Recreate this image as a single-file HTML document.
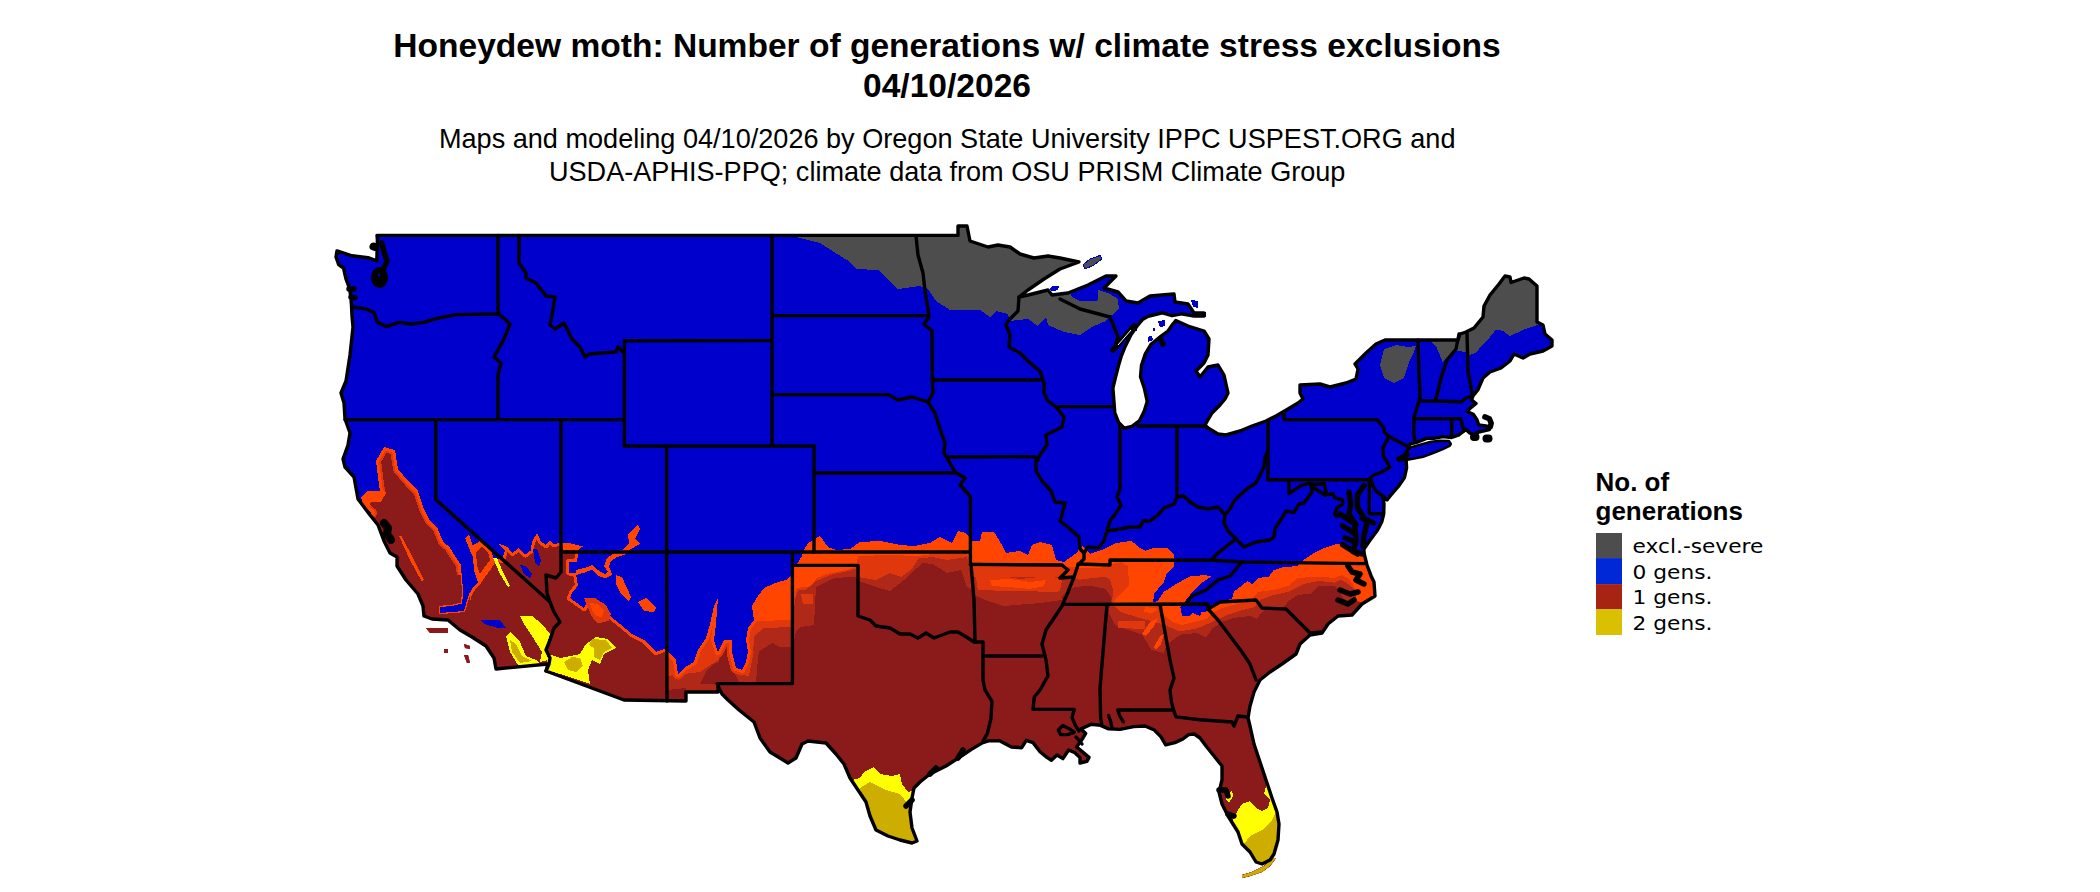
<!DOCTYPE html>
<html><head><meta charset="utf-8"><title>Honeydew moth</title>
<style>
html,body{margin:0;padding:0;background:#fff;}
body{width:2100px;height:892px;position:relative;overflow:hidden;font-family:"Liberation Sans",sans-serif;color:#000;}
.t{position:absolute;white-space:nowrap;}
#title{left:0;width:1894px;text-align:center;top:26px;font-size:32px;font-weight:bold;line-height:40px;}
#sub{left:0;width:1894px;text-align:center;top:122px;font-size:26.6px;line-height:33px;}
#lt{left:1596px;top:468px;font-size:24px;font-weight:bold;line-height:28.8px;}
.ll{left:1633px;font-family:"DejaVu Sans",sans-serif;font-size:19px;line-height:25.6px;}
</style></head><body>
<svg width="2100" height="892" viewBox="0 0 2100 892" style="position:absolute;left:0;top:0">
<defs><clipPath id="land">
<polygon points="377.0,235.4 958.0,235.4 958.0,226.0 967.0,226.0 970.0,241.0 988.0,247.0 998.0,245.0 1010.0,247.0 1020.0,254.0 1034.0,258.0 1048.0,256.0 1060.0,258.0 1079.0,262.0 1060.0,269.0 1044.0,279.0 1028.0,290.0 1019.0,297.0 1028.0,295.0 1048.0,290.0 1052.0,295.0 1068.0,293.0 1088.0,285.0 1106.0,276.0 1116.0,276.0 1104.0,288.0 1118.0,292.0 1126.0,301.0 1138.0,303.0 1150.0,296.0 1174.0,294.0 1175.0,302.0 1188.0,304.0 1194.0,313.0 1204.0,313.0 1204.0,316.0 1194.0,316.0 1181.5,313.8 1172.0,315.7 1162.4,312.9 1147.2,316.7 1142.4,319.6 1137.6,325.3 1131.0,334.8 1125.3,346.2 1121.4,355.8 1118.6,365.3 1115.7,376.7 1112.9,388.2 1113.8,399.6 1114.8,412.9 1118.6,422.5 1124.3,428.2 1131.9,426.3 1139.6,420.6 1144.3,411.0 1147.2,401.5 1144.3,388.2 1140.5,376.7 1141.5,365.3 1145.3,353.9 1151.0,344.3 1160.5,336.7 1168.0,331.0 1172.0,325.3 1175.8,320.5 1188.0,326.0 1204.0,331.0 1209.0,339.0 1208.0,355.0 1204.0,363.0 1196.0,371.0 1200.0,377.0 1208.0,367.0 1218.0,365.0 1224.0,375.0 1228.0,393.0 1225.0,399.0 1220.0,405.0 1212.0,413.0 1205.0,425.0 1208.0,428.0 1218.0,434.0 1226.0,435.0 1240.0,431.0 1252.0,426.0 1266.0,421.0 1276.0,416.0 1288.0,409.0 1298.0,403.0 1303.0,399.0 1300.0,393.0 1300.0,385.0 1320.0,384.0 1330.0,387.0 1346.0,383.0 1356.0,379.0 1358.0,369.0 1355.0,364.0 1366.0,353.0 1376.0,344.0 1385.0,340.0 1458.0,340.0 1460.0,334.0 1466.0,332.0 1474.0,328.0 1483.0,317.0 1484.0,306.0 1490.0,295.0 1499.0,284.0 1505.0,276.0 1510.0,277.0 1511.0,282.5 1524.0,278.0 1529.0,279.0 1537.0,286.0 1537.0,322.0 1543.0,325.0 1545.0,334.0 1552.0,340.0 1552.0,346.0 1543.0,351.0 1530.0,354.0 1523.0,358.0 1514.0,354.0 1510.0,361.0 1501.0,368.0 1490.0,372.0 1483.0,378.0 1477.8,390.0 1473.3,395.4 1471.5,399.9 1476.0,403.5 1470.6,407.9 1467.0,411.5 1473.3,414.2 1476.9,419.6 1478.7,425.0 1485.8,425.9 1490.3,426.8 1489.4,429.5 1478.7,432.0 1474.2,434.8 1469.7,433.0 1466.0,429.5 1462.5,432.0 1458.9,434.8 1451.7,437.5 1442.8,436.6 1433.8,438.4 1426.6,438.4 1417.7,442.0 1410.5,443.8 1408.0,447.0 1406.0,457.0 1406.6,468.0 1404.5,477.5 1399.0,485.6 1391.0,495.0 1387.0,500.0 1383.0,497.0 1384.0,504.0 1383.7,514.0 1381.7,522.0 1377.6,530.0 1369.6,540.7 1364.0,549.0 1364.0,553.0 1367.0,565.0 1371.0,575.7 1374.0,582.0 1375.0,596.0 1362.0,604.0 1352.0,615.0 1338.0,616.0 1328.0,624.0 1322.0,633.0 1310.0,635.0 1300.0,644.0 1296.0,654.0 1282.0,664.0 1270.0,672.0 1260.0,680.0 1254.0,692.0 1250.0,706.0 1248.0,718.0 1250.0,726.0 1254.0,744.0 1260.0,762.0 1266.0,780.0 1272.0,798.0 1277.0,812.0 1279.0,824.0 1278.0,840.0 1274.0,854.0 1270.0,860.0 1262.0,864.0 1256.0,862.0 1250.0,852.0 1242.0,844.0 1238.0,832.0 1228.0,816.0 1222.0,804.0 1219.0,792.0 1222.0,780.0 1222.0,766.0 1214.0,756.0 1206.0,746.0 1200.0,738.0 1194.3,734.0 1188.6,734.6 1182.9,739.0 1174.9,742.6 1165.7,744.9 1161.0,736.9 1154.3,730.0 1145.0,726.0 1133.7,726.6 1120.0,729.4 1108.6,728.9 1100.6,725.4 1091.4,724.3 1081.0,728.9 1085.7,733.4 1082.3,739.0 1076.6,747.0 1081.0,750.6 1089.0,757.4 1086.9,761.4 1080.0,763.0 1080.0,757.4 1074.3,752.3 1068.6,750.0 1062.9,758.6 1057.0,755.0 1051.4,760.3 1046.9,757.4 1040.0,751.7 1033.0,742.6 1026.3,740.3 1021.7,747.7 1011.4,747.0 1000.0,740.9 988.6,740.9 982.9,742.6 971.4,749.4 960.0,757.0 946.0,766.0 930.0,774.0 920.0,782.0 914.0,788.0 912.0,798.0 910.0,812.0 912.0,828.0 917.0,841.0 912.0,843.0 900.0,840.0 888.0,836.0 876.0,830.0 870.0,816.0 866.0,802.0 858.0,790.0 850.0,778.0 844.0,764.0 836.0,754.0 826.0,743.0 808.0,741.0 802.0,744.0 796.0,758.0 788.0,763.0 770.0,752.0 760.0,738.0 754.0,722.0 739.0,710.0 728.0,700.0 722.0,694.0 718.0,686.0 718.0,692.0 686.0,692.0 686.0,701.0 624.0,700.0 546.0,671.0 548.0,664.0 496.0,669.0 496.0,669.0 494.0,658.0 486.0,646.0 472.0,637.0 460.0,630.0 448.0,620.0 432.0,619.0 424.0,616.0 423.0,606.0 418.0,594.0 406.0,580.0 397.0,566.0 397.0,557.0 390.0,553.0 384.0,541.0 378.0,525.0 370.0,515.0 358.0,499.0 354.0,477.0 345.0,467.0 343.0,459.0 348.0,445.0 350.0,433.0 345.0,419.0 344.0,403.0 341.0,393.0 346.0,381.0 350.0,355.0 353.0,327.0 352.0,316.0 351.5,306.0 351.0,299.0 349.7,289.0 346.0,279.0 343.5,268.0 338.6,264.5 336.0,257.0 337.0,250.9 352.0,255.8 368.0,257.7 376.8,260.8 377.4,239.8"/>
<polygon points="1399.7,460.0 1406.0,452.0 1410.5,447.4 1420.4,444.7 1430.2,442.0 1439.2,440.7 1449.0,441.0 1450.9,443.8 1450.0,445.6 1442.8,449.2 1433.8,452.8 1423.0,456.8 1414.0,458.6 1406.0,460.0"/>
<polygon points="426.0,628.0 448.0,628.0 448.0,633.0 430.0,633.0"/>
<polygon points="464.0,644.0 470.0,646.0 470.0,649.0 465.0,648.0"/>
<polygon points="464.0,655.0 468.0,655.0 470.0,663.0 467.0,663.0"/>
<polygon points="444.0,649.0 448.0,649.0 448.0,653.0 444.0,653.0"/>
<polygon points="1276.0,858.0 1270.0,866.0 1262.0,872.0 1250.0,876.0 1242.0,878.0 1242.0,875.0 1252.0,872.0 1264.0,866.0 1272.0,858.0"/>
<polygon points="1083.0,265.0 1090.0,259.0 1100.0,255.5 1102.0,259.0 1094.0,265.0 1085.0,269.0"/>
</clipPath></defs>
<g clip-path="url(#land)" shape-rendering="crispEdges">
<rect x="300" y="200" width="1300" height="692" fill="#0000CD"/>
<polygon points="796.0,230.0 796.0,237.0 820.0,243.0 834.0,252.0 850.0,262.0 856.0,269.0 878.0,270.0 884.0,276.0 898.0,289.0 920.0,286.0 928.0,289.0 936.0,301.0 950.0,310.0 980.0,310.0 990.0,317.0 996.0,311.0 1008.0,314.0 1010.0,321.0 1028.0,319.0 1038.0,326.0 1046.0,317.0 1048.0,325.0 1064.0,332.0 1080.0,335.0 1092.0,327.0 1106.0,321.0 1110.0,315.0 1118.0,309.0 1118.0,299.0 1110.0,294.0 1096.0,301.0 1080.0,301.0 1072.0,297.0 1068.0,286.0 1090.0,250.0 1060.0,220.0 900.0,220.0" fill="#4D4D4D"/>
<polygon points="1098.0,290.0 1110.0,294.0 1118.0,301.0 1119.0,309.0 1112.0,315.0 1100.0,314.0 1098.0,300.0" fill="#4D4D4D"/>
<polygon points="1469.0,355.0 1476.0,353.0 1483.0,344.0 1490.0,337.0 1496.0,329.5 1503.0,331.0 1510.0,336.0 1521.0,331.0 1528.0,328.0 1537.0,325.0 1545.0,320.0 1545.0,270.0 1500.0,270.0 1460.0,330.0 1462.0,345.0" fill="#4D4D4D"/>
<polygon points="1459.0,334.0 1467.0,333.0 1468.0,352.0 1455.0,351.0 1448.0,357.6 1455.0,345.0" fill="#4D4D4D"/>
<polygon points="1430.0,341.0 1458.0,341.0 1455.0,349.0 1442.6,362.0 1436.0,346.0" fill="#4D4D4D"/>
<polygon points="1384.0,349.0 1396.0,345.0 1408.0,347.0 1416.0,346.0 1414.0,352.0 1409.0,362.0 1404.0,378.0 1394.0,383.0 1384.0,378.0 1380.0,365.0" fill="#4D4D4D"/>
<polygon points="1083.0,265.0 1090.0,259.0 1100.0,255.5 1102.0,259.0 1094.0,265.0 1085.0,269.0" fill="#4D4D4D"/>
<path d="M372.0 513.0 L363.0 505.0 L361.0 497.0 L368.0 491.0 L380.0 491.0 L378.0 477.0 L376.0 461.0 L384.0 447.0 L395.0 450.0 L398.0 469.0 L408.0 481.0 L418.0 491.0 L424.0 509.0 L430.0 521.0 L437.7 528.7 L443.0 541.6 L449.0 546.7 L455.8 557.0 L461.0 564.8 L462.0 580.0 L463.5 590.6 L462.0 603.5 L452.0 606.0 L440.0 607.0 L440.0 613.0 L452.0 612.0 L464.0 611.0 L468.7 595.0 L472.5 588.0 L477.7 582.8 L482.0 576.0 L488.0 568.0 L494.0 558.0 L502.0 560.0 L505.0 550.0 L497.0 543.0 L507.0 546.7 L512.5 553.0 L519.0 548.0 L525.4 554.5 L530.6 550.6 L532.0 541.6 L537.0 533.0 L541.0 541.6 L546.0 545.0 L550.0 540.0 L553.8 544.0 L560.0 543.0 L569.0 543.0 L583.4 546.7 L578.0 549.0 L578.0 554.5 L577.0 562.0 L569.0 562.0 L569.0 572.5 L575.7 572.5 L578.0 585.4 L572.0 593.0 L570.0 598.0 L584.0 608.0 L588.0 600.0 L600.0 606.0 L610.0 616.0 L620.0 624.0 L632.0 634.0 L644.0 640.0 L656.0 652.0 L667.0 648.0 L668.0 652.0 L676.0 660.0 L678.0 674.0 L684.0 668.0 L694.0 662.0 L698.0 650.0 L706.0 638.0 L710.0 624.0 L714.0 606.0 L718.0 598.0 L716.0 624.0 L714.0 640.0 L718.0 652.0 L724.0 640.0 L732.0 640.0 L732.0 652.0 L736.0 668.0 L742.0 670.0 L746.0 662.0 L748.0 652.0 L746.0 640.0 L748.0 628.0 L754.0 620.0 L752.0 606.0 L758.0 596.0 L764.0 588.0 L778.0 582.0 L786.0 580.0 L792.4 574.0 L793.0 566.0 L797.0 564.0 L802.0 556.0 L803.0 552.0 L808.0 543.0 L820.0 536.0 L828.0 547.0 L836.0 550.0 L850.0 549.0 L860.0 542.0 L880.0 541.0 L900.0 545.0 L914.0 546.0 L930.0 543.0 L940.0 537.0 L952.0 543.0 L958.0 531.0 L966.0 533.0 L972.0 541.0 L980.0 541.0 L982.0 532.0 L994.0 532.0 L1002.0 545.0 L1006.0 553.0 L1020.0 551.0 L1028.0 555.0 L1032.0 545.0 L1040.0 542.0 L1052.0 545.0 L1056.0 560.0 L1064.0 562.0 L1072.0 553.7 L1083.0 546.0 L1090.5 553.7 L1104.0 549.0 L1116.0 543.0 L1131.6 540.8 L1139.0 547.6 L1145.0 550.7 L1154.5 547.6 L1166.7 547.6 L1174.0 555.0 L1174.0 566.0 L1166.7 573.5 L1163.7 582.7 L1154.5 593.0 L1153.0 602.5 L1157.6 601.0 L1163.7 592.0 L1176.0 584.0 L1189.6 576.6 L1204.8 575.0 L1211.0 576.6 L1200.0 584.0 L1194.0 590.0 L1186.5 599.5 L1183.0 604.0 L1180.4 607.0 L1182.0 616.0 L1189.6 616.0 L1192.6 613.0 L1200.0 616.0 L1201.8 611.6 L1206.0 611.6 L1208.6 609.0 L1212.4 604.0 L1224.6 601.0 L1232.0 598.7 L1233.8 591.8 L1240.0 587.0 L1247.5 581.0 L1252.0 584.0 L1258.0 578.0 L1268.8 576.6 L1273.4 570.5 L1282.6 567.4 L1297.8 566.0 L1303.9 559.8 L1313.0 553.7 L1322.0 549.0 L1334.4 544.6 L1342.0 543.0 L1349.6 550.7 L1363.0 553.7 L1380.0 553.0 L1400.0 553.0 L1400.0 900.0 L300.0 900.0 L300.0 513.0 L372.0 513.0Z" fill="#FF4500" fill-rule="evenodd"/>
<path d="M1380.0 590.0 L1356.0 590.0 L1349.6 579.6 L1342.0 575.0 L1334.4 578.0 L1319.0 576.6 L1297.8 578.0 L1288.6 585.7 L1273.4 590.0 L1258.0 591.8 L1250.5 601.0 L1236.8 604.0 L1224.6 607.0 L1212.0 613.0 L1206.0 619.0 L1194.0 622.0 L1182.0 625.0 L1172.8 622.0 L1165.0 616.0 L1153.0 604.5 L1112.0 604.5 L1117.0 597.0 L1129.0 585.0 L1128.0 566.0 L1121.0 562.0 L1110.0 564.4 L1105.7 567.4 L1080.0 568.0 L1062.0 566.0 L971.0 562.0 L967.0 554.0 L933.0 554.0 L918.6 556.0 L890.0 555.0 L858.0 556.0 L856.0 566.5 L847.0 570.0 L826.0 574.0 L816.0 578.6 L814.0 586.0 L804.0 587.0 L796.0 588.0 L794.0 600.0 L792.4 620.0 L792.4 900.0 L1400.0 900.0 L1400.0 640.0 L1380.0 590.0Z" fill="#E0380C" fill-rule="evenodd"/>
<path d="M1380.0 596.0 L1360.0 596.0 L1350.0 585.0 L1340.5 579.6 L1334.4 582.7 L1319.0 581.0 L1303.9 584.0 L1288.6 591.8 L1273.4 595.0 L1261.0 599.5 L1255.0 607.0 L1243.0 610.0 L1227.7 614.7 L1218.5 619.0 L1212.4 622.0 L1197.0 628.4 L1179.0 631.5 L1165.0 625.0 L1140.0 618.0 L1120.0 612.0 L1112.0 604.0 L1113.0 590.0 L1110.0 579.6 L1105.7 576.6 L1080.0 579.6 L1062.0 577.0 L1000.0 577.0 L971.0 575.0 L967.0 557.0 L947.0 560.0 L933.0 557.0 L918.6 558.6 L911.0 570.0 L901.0 577.0 L890.0 573.0 L876.0 580.0 L858.6 577.0 L856.0 568.6 L847.0 571.4 L833.0 574.0 L816.0 581.0 L806.0 589.5 L798.0 590.5 L795.0 600.0 L792.4 627.0 L792.4 900.0 L1400.0 900.0 L1400.0 640.0 L1380.0 596.0Z" fill="#B02818" fill-rule="evenodd"/>
<path d="M1380.0 600.0 L1362.0 601.0 L1350.0 604.0 L1343.0 598.0 L1339.0 590.0 L1334.4 585.7 L1319.0 585.7 L1311.5 593.4 L1297.8 595.0 L1288.6 601.0 L1282.6 608.6 L1265.8 608.6 L1262.7 611.6 L1256.6 619.0 L1250.5 616.0 L1235.0 617.7 L1221.6 622.0 L1212.4 628.4 L1206.0 637.6 L1197.0 633.0 L1182.0 634.5 L1175.9 637.6 L1166.7 645.0 L1163.7 652.8 L1151.5 649.8 L1142.0 634.5 L1128.6 630.0 L1114.9 625.0 L1108.8 613.0 L1110.0 604.0 L1111.8 598.0 L1105.7 588.8 L1090.5 585.7 L1075.0 587.0 L1066.0 592.0 L1061.0 597.0 L1047.0 600.0 L1033.0 601.0 L1018.6 598.6 L1004.0 604.0 L990.0 597.0 L974.0 591.0 L967.0 587.0 L961.0 570.0 L947.0 573.0 L933.0 564.0 L923.0 563.0 L911.0 573.0 L904.0 580.0 L890.0 591.0 L876.0 587.0 L858.6 581.0 L856.0 577.0 L847.0 577.0 L833.0 578.6 L816.0 587.0 L814.0 625.0 L801.0 627.0 L796.0 631.0 L792.4 647.0 L792.4 900.0 L1400.0 900.0 L1400.0 640.0 L1380.0 600.0Z" fill="#8B1A1A" fill-rule="evenodd"/>
<path d="M303.0 575.0 L458.7 575.0 L458.1 565.8 L453.3 558.7 L453.3 558.7 L446.7 548.7 L441.1 543.9 L440.8 543.7 L440.7 543.5 L440.5 543.2 L440.3 543.0 L440.2 542.7 L435.2 530.4 L427.9 523.1 L427.7 522.9 L427.5 522.6 L427.3 522.3 L421.3 510.3 L421.2 509.9 L415.4 492.6 L405.9 483.1 L405.7 482.9 L395.7 470.9 L395.5 470.7 L395.3 470.4 L395.2 470.1 L395.1 469.8 L395.0 469.5 L392.3 452.4 L385.5 450.5 L379.1 461.6 L381.0 476.6 L382.7 488.9 L386.0 493.0 L381.0 502.0 L371.0 502.0 L369.2 506.5 L374.0 510.8 L374.2 511.0 L374.4 511.2 L374.6 511.4 L374.7 511.7 L374.8 511.9 L374.9 512.2 L375.0 512.5 L375.0 512.8 L375.0 513.1 L375.0 513.4 L374.9 513.7 L374.9 513.9 L374.7 514.2 L374.6 514.5 L374.5 514.7 L374.3 514.9 L374.1 515.1 L373.9 515.3 L373.6 515.5 L373.4 515.7 L373.1 515.8 L372.9 515.9 L372.6 515.9 L372.3 516.0 L372.0 516.0 L303.0 516.0 L303.0 575.0Z" fill="#E0380C" fill-rule="evenodd"/>
<path d="M456.1 566.5 L451.6 559.8 L451.6 559.8 L445.2 550.0 L439.8 545.4 L439.4 545.1 L439.1 544.7 L438.8 544.3 L438.6 543.9 L438.4 543.5 L433.5 531.5 L426.5 524.5 L426.1 524.1 L425.8 523.7 L425.5 523.2 L419.5 511.2 L419.3 510.6 L413.6 493.7 L404.5 484.5 L404.2 484.2 L394.2 472.2 L393.8 471.8 L393.6 471.3 L393.3 470.8 L393.2 470.3 L393.1 469.8 L390.6 454.0 L386.4 452.8 L381.2 462.0 L383.0 476.3 L384.9 490.3 L385.0 490.8 L385.0 491.3 L384.9 491.7 L386.0 493.0 L381.0 502.0 L371.0 502.0 L370.0 504.5 L375.3 509.3 L375.7 509.6 L376.0 510.0 L376.3 510.4 L376.5 510.8 L376.7 511.2 L376.8 511.7 L376.9 512.2 L377.0 512.6 L377.0 513.1 L377.0 513.6 L376.9 514.1 L376.8 514.5 L376.6 515.0 L376.4 515.4 L376.1 515.8 L375.8 516.2 L375.5 516.6 L375.1 516.9 L374.7 517.2 L374.3 517.4 L373.9 517.6 L373.4 517.8 L373.0 517.9 L372.5 518.0 L372.0 518.0 L305.0 518.0 L305.0 575.0 L301.2 575.0 L301.2 898.8 L470.0 898.8 L470.0 897.0 L667.0 897.0 L667.0 655.2 L665.9 654.1 L665.7 653.9 L665.5 653.7 L665.4 653.5 L665.3 653.2 L665.2 653.0 L665.1 652.7 L664.9 652.0 L657.0 654.8 L656.8 654.9 L656.5 655.0 L656.2 655.0 L655.9 655.0 L655.6 655.0 L655.4 654.9 L655.1 654.9 L654.8 654.8 L654.6 654.6 L654.3 654.5 L654.1 654.3 L653.9 654.1 L642.2 642.5 L630.7 636.7 L630.4 636.5 L630.1 636.3 L618.1 626.3 L608.1 618.3 L607.9 618.1 L598.2 608.5 L589.3 604.0 L586.7 609.3 L586.5 609.6 L586.4 609.8 L586.2 610.0 L586.0 610.2 L585.8 610.4 L585.5 610.6 L585.3 610.7 L585.0 610.8 L584.7 610.9 L584.4 611.0 L584.2 611.0 L583.9 611.0 L583.6 611.0 L583.3 610.9 L583.0 610.8 L582.8 610.7 L582.5 610.6 L582.3 610.4 L568.3 600.4 L568.0 600.3 L567.8 600.1 L567.6 599.9 L567.5 599.6 L567.3 599.4 L567.2 599.1 L567.1 598.8 L567.1 598.6 L567.0 598.3 L567.0 598.0 L567.0 597.7 L567.1 597.4 L567.1 597.2 L567.2 596.9 L569.2 591.9 L569.3 591.6 L569.5 591.4 L569.6 591.1 L574.8 584.6 L573.2 575.5 L569.0 575.5 L568.7 575.5 L568.4 575.4 L568.1 575.4 L567.9 575.3 L567.6 575.1 L567.3 575.0 L567.1 574.8 L566.9 574.6 L566.7 574.4 L566.5 574.2 L566.4 573.9 L566.2 573.6 L566.1 573.4 L566.1 573.1 L566.0 572.8 L566.0 572.5 L566.0 562.0 L566.0 561.7 L566.1 561.4 L566.1 561.1 L566.2 560.9 L566.4 560.6 L566.5 560.3 L566.7 560.1 L566.9 559.9 L567.1 559.7 L567.3 559.5 L567.6 559.4 L567.9 559.2 L568.1 559.1 L568.4 559.1 L568.7 559.0 L569.0 559.0 L574.4 559.0 L575.0 554.3 L575.0 549.0 L575.0 548.7 L575.1 548.4 L575.1 548.1 L575.2 547.9 L575.3 547.7 L568.6 546.0 L560.2 546.0 L554.3 547.0 L554.0 547.0 L553.7 547.0 L553.4 547.0 L553.1 546.9 L552.8 546.8 L552.6 546.7 L552.3 546.6 L552.1 546.4 L551.8 546.3 L551.6 546.1 L550.2 544.6 L548.3 546.9 L548.1 547.1 L547.9 547.3 L547.7 547.5 L547.4 547.6 L547.2 547.8 L546.9 547.9 L546.6 547.9 L546.3 548.0 L546.0 548.0 L545.7 548.0 L545.4 547.9 L545.1 547.9 L544.8 547.8 L544.6 547.6 L544.3 547.5 L539.3 544.1 L539.1 543.9 L538.8 543.7 L538.6 543.4 L538.4 543.2 L538.3 542.9 L536.7 539.5 L534.9 542.6 L533.6 551.1 L533.5 551.3 L533.4 551.6 L533.3 551.9 L533.2 552.1 L533.0 552.4 L532.8 552.6 L532.6 552.8 L532.4 553.0 L527.2 556.9 L527.0 557.1 L526.7 557.2 L526.4 557.3 L526.2 557.4 L525.9 557.5 L525.6 557.5 L525.3 557.5 L525.0 557.5 L524.7 557.4 L524.5 557.4 L524.2 557.3 L523.9 557.1 L523.7 557.0 L523.5 556.8 L523.3 556.6 L518.7 552.0 L514.3 555.4 L514.1 555.5 L513.8 555.7 L513.5 555.8 L513.3 555.9 L513.0 556.0 L512.7 556.0 L512.4 556.0 L512.1 556.0 L511.8 555.9 L511.5 555.8 L511.2 555.7 L510.9 555.6 L510.7 555.4 L510.4 555.2 L510.2 555.0 L507.6 551.9 L504.9 560.9 L504.8 561.1 L504.7 561.4 L504.5 561.6 L504.3 561.9 L504.2 562.1 L504.0 562.3 L503.7 562.5 L503.5 562.6 L503.2 562.7 L503.0 562.8 L502.7 562.9 L502.4 563.0 L502.1 563.0 L501.8 563.0 L501.6 563.0 L501.3 562.9 L495.4 561.4 L490.6 569.5 L490.4 569.8 L484.5 577.7 L480.2 584.4 L480.0 584.7 L479.8 584.9 L474.9 589.8 L471.5 596.2 L470.0 601.2 L470.0 595.1 L469.8 595.5 L465.2 611.3 L465.1 611.5 L465.1 611.6 L465.0 611.7 L464.9 611.8 L464.8 611.8 L464.8 611.9 L464.7 612.0 L464.6 612.1 L464.4 612.1 L464.3 612.2 L464.2 612.2 L464.1 612.2 L440.1 614.2 L440.0 614.2 L439.9 614.2 L439.8 614.2 L439.6 614.1 L439.5 614.1 L439.4 614.1 L439.3 614.0 L439.2 613.9 L439.1 613.8 L439.1 613.8 L439.0 613.7 L438.9 613.6 L438.9 613.5 L438.9 613.3 L438.8 613.2 L438.8 613.1 L438.8 613.0 L438.8 607.0 L438.8 606.9 L438.8 606.8 L438.9 606.6 L438.9 606.5 L438.9 606.4 L439.0 606.3 L439.1 606.2 L439.2 606.1 L439.2 606.1 L439.3 606.0 L439.4 605.9 L439.6 605.9 L439.7 605.8 L439.8 605.8 L439.9 605.8 L451.8 604.8 L460.9 602.5 L462.3 590.6 L460.8 580.2 L460.8 580.1 L460.5 575.0 L456.7 575.0 L456.1 566.5Z" fill="#8B1A1A" fill-rule="evenodd"/>
<path d="M756.8 621.0 L756.7 621.3 L756.6 621.6 L756.4 621.8 L750.8 629.2 L749.0 640.0 L751.0 651.5 L751.0 651.8 L751.0 652.0 L751.0 652.3 L750.9 652.6 L748.9 662.6 L748.9 662.8 L748.8 663.1 L748.7 663.3 L744.7 671.3 L744.5 671.6 L744.4 671.8 L744.2 672.0 L744.0 672.2 L743.8 672.4 L743.5 672.6 L743.3 672.7 L743.0 672.8 L742.7 672.9 L742.5 673.0 L742.2 673.0 L741.9 673.0 L741.6 673.0 L741.3 672.9 L741.1 672.8 L735.1 670.8 L734.8 670.7 L734.5 670.6 L734.2 670.4 L734.0 670.2 L733.8 670.0 L733.6 669.8 L733.4 669.6 L733.3 669.3 L733.2 669.0 L733.1 668.7 L729.1 652.7 L729.0 652.4 L729.0 652.0 L729.0 643.0 L725.9 643.0 L720.7 653.3 L720.5 653.6 L720.4 653.8 L720.2 654.1 L720.0 654.3 L719.7 654.4 L719.5 654.6 L719.2 654.7 L718.9 654.8 L718.7 654.9 L718.4 655.0 L718.1 655.0 L717.8 655.0 L717.5 655.0 L717.2 654.9 L716.9 654.8 L716.7 654.7 L716.4 654.5 L716.2 654.4 L715.9 654.2 L715.7 654.0 L715.6 653.7 L715.4 653.5 L715.3 653.2 L715.2 652.9 L711.2 640.9 L711.1 640.7 L711.0 640.4 L711.0 640.2 L711.0 639.9 L711.0 639.6 L712.9 624.9 L708.9 638.8 L708.8 639.1 L708.7 639.4 L708.5 639.7 L700.7 651.3 L696.8 662.9 L696.7 663.2 L696.6 663.5 L696.4 663.8 L696.2 664.0 L696.0 664.2 L695.8 664.4 L695.5 664.6 L685.9 670.4 L680.1 676.1 L679.9 676.3 L679.7 676.5 L679.4 676.6 L679.2 676.8 L678.9 676.9 L678.6 676.9 L678.3 677.0 L678.0 677.0 L677.8 677.0 L677.5 677.0 L677.2 676.9 L676.9 676.8 L676.7 676.7 L676.4 676.5 L676.2 676.4 L675.9 676.2 L675.7 676.0 L675.6 675.8 L675.4 675.5 L675.3 675.3 L675.2 675.0 L675.1 674.7 L675.0 674.4 L673.2 661.4 L667.0 655.2 L667.0 705.0 L686.0 705.0 L686.0 692.0 L718.0 692.0 L718.0 684.0 L792.4 684.0 L792.4 620.0 L756.8 621.0 L756.8 621.0Z" fill="#E0380C" fill-rule="evenodd"/>
<path d="M753.4 651.1 L753.5 651.6 L753.5 652.1 L753.5 652.6 L753.4 653.1 L753.1 654.7 L753.0 656.0 L749.0 676.0 L743.8 675.2 L743.4 675.3 L742.8 675.4 L742.3 675.5 L741.8 675.5 L741.3 675.5 L740.8 675.4 L740.3 675.2 L737.1 674.2 L736.0 674.0 L736.0 673.8 L734.3 673.2 L733.7 673.0 L733.3 672.8 L732.8 672.5 L732.4 672.1 L732.0 671.7 L731.6 671.3 L731.3 670.9 L731.0 670.4 L730.8 669.9 L730.7 669.3 L726.7 653.3 L726.5 652.7 L726.5 652.0 L726.5 647.3 L722.9 654.5 L722.7 654.9 L722.3 655.4 L722.0 655.8 L721.6 656.2 L721.2 656.5 L720.7 656.8 L720.2 657.0 L719.7 657.2 L719.5 657.3 L719.0 660.0 L712.0 664.0 L700.0 672.0 L686.1 673.7 L681.9 677.9 L681.5 678.2 L681.1 678.6 L680.6 678.8 L680.1 679.1 L679.6 679.2 L679.1 679.4 L678.6 679.5 L678.1 679.5 L677.6 679.5 L677.0 679.4 L676.5 679.3 L676.0 679.1 L675.5 678.9 L675.1 678.7 L674.6 678.3 L674.2 678.0 L673.9 677.6 L673.5 677.2 L673.2 676.8 L673.0 676.3 L672.8 675.8 L672.7 675.3 L667.0 676.0 L667.0 705.0 L686.0 705.0 L686.0 692.0 L718.0 692.0 L718.0 684.0 L792.4 684.0 L792.4 627.0 L764.0 628.0 L754.0 636.0 L753.3 650.3 L753.4 651.1Z" fill="#B02818" fill-rule="evenodd"/>
<path d="M700.0 684.0 L718.0 684.0 L740.0 684.0 L734.7 673.4 L734.3 673.2 L733.7 673.0 L733.3 672.8 L732.8 672.5 L732.4 672.1 L732.0 671.7 L731.6 671.3 L731.3 670.9 L731.0 670.4 L730.8 669.9 L730.7 669.3 L726.7 653.3 L726.5 652.7 L726.5 652.0 L726.5 647.3 L722.9 654.5 L722.7 654.9 L722.3 655.4 L722.0 655.8 L721.6 656.2 L721.2 656.5 L720.7 656.8 L720.2 657.0 L719.9 657.2 L719.0 662.0 L712.0 665.0 L706.0 672.0 L700.0 684.0Z" fill="#8B1A1A" fill-rule="evenodd"/>
<path d="M772.7 643.0 L759.0 651.0 L757.0 668.0 L756.0 684.0 L792.4 684.0 L792.4 647.0 L779.4 647.0 L772.7 643.0Z" fill="#8B1A1A" fill-rule="evenodd"/>
<path d="M667.0 690.0 L667.0 701.0 L686.0 701.0 L686.0 692.0 L686.0 688.0 L667.0 690.0Z" fill="#8B1A1A" fill-rule="evenodd"/>
<path d="M800.0 684.0 L792.4 684.0 L718.0 684.0 L718.0 692.0 L686.0 692.0 L686.0 705.0 L686.0 900.0 L800.0 900.0 L800.0 684.0Z" fill="#8B1A1A" fill-rule="evenodd"/>
<polygon points="584.2,598.0 595.0,598.0 605.7,604.8 611.0,614.2 608.4,621.0 597.6,623.6 592.2,617.0 586.9,606.0" fill="#E0380C"/>
<polygon points="976.0,577.0 1000.0,576.0 1020.0,579.0 1050.0,576.0 1062.0,580.0 1060.0,591.0 1040.0,595.0 1020.0,593.0 1000.0,591.0 978.0,591.0" fill="#E0380C"/>
<polygon points="972.0,566.0 1060.0,567.0 1060.0,577.0 972.0,577.0" fill="#E0380C"/>
<polygon points="1127.0,606.0 1159.0,606.0 1159.0,612.0 1127.0,612.0" fill="#E0380C"/>
<polygon points="1118.0,621.0 1145.0,621.0 1145.0,629.0 1118.0,628.0" fill="#E0380C"/>
<polygon points="801.0,594.0 813.0,594.0 813.0,604.0 803.0,604.0" fill="#E0380C"/>
<polygon points="972.0,590.0 1060.0,592.0 1062.0,600.0 1040.0,603.0 1004.0,606.0 985.0,600.0 972.0,594.0" fill="#B02818"/>
<polygon points="590.0,603.0 598.0,604.0 604.0,611.0 602.0,617.0 596.0,616.0 592.0,610.0" fill="#FF4500"/>
<polygon points="990.0,580.0 1010.0,579.0 1030.0,582.0 1046.0,580.0 1044.0,586.0 1030.0,589.0 1008.0,587.0 992.0,586.0" fill="#FF4500"/>
<polygon points="1145.0,607.0 1159.0,609.0 1152.0,613.0 1144.0,612.0" fill="#FF4500"/>
<polygon points="1142.0,634.0 1150.0,622.0 1158.0,618.0 1154.0,626.0 1146.0,636.0" fill="#FF4500"/>
<polygon points="1154.0,647.0 1160.0,636.0 1164.0,634.0 1161.0,644.0 1156.0,650.0" fill="#FF4500"/>
<polygon points="1357.0,590.0 1374.0,588.0 1376.0,598.0 1364.0,604.0 1356.0,600.0" fill="#FF4500"/>
<polygon points="472.0,546.0 480.0,541.0 490.0,547.0 494.0,560.0 488.0,568.0 482.0,576.0 478.0,582.0 474.0,570.0" fill="#FF4500"/>
<polygon points="465.0,538.0 469.0,535.0 473.0,546.0 479.0,560.0 482.0,572.0 478.0,572.0 474.0,560.0 469.0,548.0" fill="#FF4500"/>
<polygon points="479.0,543.0 486.0,545.0 490.0,556.0 486.0,562.0 482.0,552.0" fill="#FF4500"/>
<polygon points="575.7,570.0 584.7,568.0 592.5,565.0 597.6,570.0 605.0,574.0 608.0,572.0 604.0,566.0 607.0,558.0 615.7,552.0 622.0,550.0 629.0,543.0 628.0,535.0 637.6,524.8 640.0,528.7 635.0,539.0 640.0,544.0 631.0,549.0 624.0,555.0 617.0,557.0 611.0,561.0 609.0,567.0 612.5,575.0 605.0,578.5 597.0,575.0 592.0,569.5 585.0,572.5 576.0,575.0" fill="#FF4500"/>
<polygon points="615.7,575.0 622.0,577.0 631.0,597.0 629.0,601.0 621.0,594.0 616.0,584.0" fill="#FF4500"/>
<polygon points="638.0,602.0 646.0,598.0 656.0,608.0 654.0,612.0 644.0,611.0" fill="#FF4500"/>
<polygon points="563.0,545.0 582.0,546.0 578.0,550.0 563.0,550.0" fill="#FF4500"/>
<polygon points="399.0,536.0 401.5,536.0 413.0,558.0 424.0,580.0 421.5,581.0 410.0,560.0" fill="#FF4500"/>
<polygon points="534.0,632.0 538.0,632.0 543.0,643.0 540.0,646.0" fill="#8B1A1A"/>
<polygon points="541.0,650.0 545.0,650.0 545.0,656.0 542.0,656.0" fill="#8B1A1A"/>
<polygon points="556.0,664.0 562.0,662.0 566.0,668.0 560.0,671.0" fill="#8B1A1A"/>
<polygon points="476.0,552.0 482.0,547.0 488.0,552.0 490.0,560.0 484.0,568.0 480.0,574.0 477.0,566.0" fill="#8B1A1A"/>
<polygon points="533.0,549.0 537.0,549.0 541.0,560.0 539.0,567.0 535.0,562.0" fill="#0000CD"/>
<polygon points="520.0,565.0 526.0,566.0 532.0,574.0 530.0,578.0 524.0,574.0" fill="#0000CD"/>
<polygon points="480.0,620.0 500.0,620.0 506.0,628.0 498.0,628.0 484.0,624.0" fill="#0000CD"/>
<polygon points="1054.0,538.0 1056.0,560.0 1064.0,562.0 1078.0,552.0 1078.0,538.0" fill="#0000CD"/>
<polygon points="506.0,636.0 510.0,632.0 520.0,642.0 526.0,656.0 536.0,660.0 540.0,664.0 518.0,665.0 510.0,652.0" fill="#FFFF00"/>
<polygon points="520.0,616.0 532.0,616.0 542.0,624.0 550.0,634.0 546.0,648.0 548.0,660.0 540.0,662.0 542.0,652.0 532.0,636.0 524.0,624.0" fill="#FFFF00"/>
<polygon points="548.0,654.0 560.0,658.0 580.0,654.0 586.0,644.0 596.0,637.0 608.0,639.0 616.0,648.0 604.0,654.0 600.0,664.0 592.0,660.0 588.0,670.0 590.0,684.0 578.0,680.0 560.0,674.0 546.0,670.0" fill="#FFFF00"/>
<polygon points="493.0,558.0 497.0,558.0 503.0,572.0 510.0,586.0 508.0,587.0 500.0,574.0" fill="#FFFF00"/>
<polygon points="852.0,780.0 860.0,778.0 864.0,772.0 874.0,767.0 880.0,774.0 892.0,776.0 900.0,774.0 902.0,784.0 908.0,792.0 916.0,790.0 914.0,798.0 912.0,812.0 914.0,828.0 919.0,841.0 912.0,845.0 900.0,842.0 888.0,838.0 876.0,832.0 868.0,816.0 864.0,802.0 856.0,790.0" fill="#FFFF00"/>
<polygon points="1238.0,810.0 1242.0,804.0 1250.0,801.0 1256.0,808.0 1262.0,811.0 1268.0,808.0 1270.0,800.0 1264.0,794.0 1267.0,782.0 1274.0,798.0 1279.0,812.0 1281.0,824.0 1280.0,840.0 1276.0,854.0 1272.0,860.0 1262.0,866.0 1256.0,864.0 1248.0,852.0 1240.0,844.0 1236.0,832.0 1232.0,822.0" fill="#FFFF00"/>
<polygon points="1226.0,800.0 1228.0,794.0 1232.0,790.0 1233.0,796.0 1229.0,803.0" fill="#FFFF00"/>
<polygon points="860.0,788.0 870.0,782.0 886.0,790.0 900.0,794.0 908.0,804.0 912.0,812.0 914.0,828.0 919.0,841.0 912.0,845.0 900.0,842.0 888.0,838.0 876.0,832.0 868.0,816.0 864.0,802.0" fill="#CDAD00"/>
<polygon points="1250.0,836.0 1262.0,830.0 1272.0,820.0 1276.0,812.0 1281.0,824.0 1280.0,840.0 1276.0,854.0 1272.0,860.0 1262.0,866.0 1256.0,864.0 1248.0,852.0 1244.0,844.0" fill="#CDAD00"/>
<polygon points="510.0,640.0 516.0,644.0 522.0,656.0 532.0,661.0 520.0,663.0 512.0,652.0" fill="#CDAD00"/>
<polygon points="592.0,639.0 606.0,640.0 612.0,648.0 604.0,652.0 600.0,660.0 594.0,657.0 594.0,648.0 589.0,645.0" fill="#CDAD00"/>
<polygon points="564.0,662.0 572.0,657.0 580.0,658.0 583.0,666.0 576.0,672.0 568.0,670.0" fill="#CDAD00"/>
<polygon points="1276.0,858.0 1270.0,866.0 1262.0,872.0 1250.0,876.0 1242.0,878.0 1242.0,875.0 1252.0,872.0 1264.0,866.0 1272.0,858.0" fill="#CDAD00"/>
</g>
<polygon points="1158.0,321.0 1165.0,320.0 1165.0,326.0 1160.0,327.0" fill="#0000CD" shape-rendering="crispEdges"/>
<polygon points="1152.5,328.0 1155.5,328.0 1155.0,331.0 1152.5,331.0" fill="#0000CD" shape-rendering="crispEdges"/>
<polygon points="1148.0,337.0 1152.0,335.5 1153.0,340.0 1148.5,341.5" fill="#0000CD" shape-rendering="crispEdges"/>
<polygon points="1133.5,327.0 1137.5,326.5 1137.0,331.0 1133.5,331.0" fill="#0000CD" shape-rendering="crispEdges"/>
<polygon points="1049.0,289.0 1053.0,286.0 1059.0,285.5 1058.0,290.0 1052.0,291.5" fill="#0000CD" shape-rendering="crispEdges"/>
<polygon points="1191.0,300.0 1198.0,301.0 1198.0,308.0 1193.0,307.0" fill="#0000CD" shape-rendering="crispEdges"/>
<polygon points="1196.0,313.0 1206.0,312.0 1206.0,317.0 1197.0,317.0" fill="#0000CD" shape-rendering="crispEdges"/>
<polygon points="1083.0,265.0 1090.0,259.0 1100.0,255.5 1102.0,259.0 1094.0,265.0 1085.0,269.0" fill="#4D4D4D" stroke="#0000CD" stroke-width="1" shape-rendering="crispEdges"/>
<g fill="none" stroke="#000" stroke-width="3.4" stroke-linejoin="round" stroke-linecap="round">
<polygon points="377.0,235.4 958.0,235.4 958.0,226.0 967.0,226.0 970.0,241.0 988.0,247.0 998.0,245.0 1010.0,247.0 1020.0,254.0 1034.0,258.0 1048.0,256.0 1060.0,258.0 1079.0,262.0 1060.0,269.0 1044.0,279.0 1028.0,290.0 1019.0,297.0 1028.0,295.0 1048.0,290.0 1052.0,295.0 1068.0,293.0 1088.0,285.0 1106.0,276.0 1116.0,276.0 1104.0,288.0 1118.0,292.0 1126.0,301.0 1138.0,303.0 1150.0,296.0 1174.0,294.0 1175.0,302.0 1188.0,304.0 1194.0,313.0 1204.0,313.0 1204.0,316.0 1194.0,316.0 1181.5,313.8 1172.0,315.7 1162.4,312.9 1147.2,316.7 1142.4,319.6 1137.6,325.3 1131.0,334.8 1125.3,346.2 1121.4,355.8 1118.6,365.3 1115.7,376.7 1112.9,388.2 1113.8,399.6 1114.8,412.9 1118.6,422.5 1124.3,428.2 1131.9,426.3 1139.6,420.6 1144.3,411.0 1147.2,401.5 1144.3,388.2 1140.5,376.7 1141.5,365.3 1145.3,353.9 1151.0,344.3 1160.5,336.7 1168.0,331.0 1172.0,325.3 1175.8,320.5 1188.0,326.0 1204.0,331.0 1209.0,339.0 1208.0,355.0 1204.0,363.0 1196.0,371.0 1200.0,377.0 1208.0,367.0 1218.0,365.0 1224.0,375.0 1228.0,393.0 1225.0,399.0 1220.0,405.0 1212.0,413.0 1205.0,425.0 1208.0,428.0 1218.0,434.0 1226.0,435.0 1240.0,431.0 1252.0,426.0 1266.0,421.0 1276.0,416.0 1288.0,409.0 1298.0,403.0 1303.0,399.0 1300.0,393.0 1300.0,385.0 1320.0,384.0 1330.0,387.0 1346.0,383.0 1356.0,379.0 1358.0,369.0 1355.0,364.0 1366.0,353.0 1376.0,344.0 1385.0,340.0 1458.0,340.0 1460.0,334.0 1466.0,332.0 1474.0,328.0 1483.0,317.0 1484.0,306.0 1490.0,295.0 1499.0,284.0 1505.0,276.0 1510.0,277.0 1511.0,282.5 1524.0,278.0 1529.0,279.0 1537.0,286.0 1537.0,322.0 1543.0,325.0 1545.0,334.0 1552.0,340.0 1552.0,346.0 1543.0,351.0 1530.0,354.0 1523.0,358.0 1514.0,354.0 1510.0,361.0 1501.0,368.0 1490.0,372.0 1483.0,378.0 1477.8,390.0 1473.3,395.4 1471.5,399.9 1476.0,403.5 1470.6,407.9 1467.0,411.5 1473.3,414.2 1476.9,419.6 1478.7,425.0 1485.8,425.9 1490.3,426.8 1489.4,429.5 1478.7,432.0 1474.2,434.8 1469.7,433.0 1466.0,429.5 1462.5,432.0 1458.9,434.8 1451.7,437.5 1442.8,436.6 1433.8,438.4 1426.6,438.4 1417.7,442.0 1410.5,443.8 1408.0,447.0 1406.0,457.0 1406.6,468.0 1404.5,477.5 1399.0,485.6 1391.0,495.0 1387.0,500.0 1383.0,497.0 1384.0,504.0 1383.7,514.0 1381.7,522.0 1377.6,530.0 1369.6,540.7 1364.0,549.0 1364.0,553.0 1367.0,565.0 1371.0,575.7 1374.0,582.0 1375.0,596.0 1362.0,604.0 1352.0,615.0 1338.0,616.0 1328.0,624.0 1322.0,633.0 1310.0,635.0 1300.0,644.0 1296.0,654.0 1282.0,664.0 1270.0,672.0 1260.0,680.0 1254.0,692.0 1250.0,706.0 1248.0,718.0 1250.0,726.0 1254.0,744.0 1260.0,762.0 1266.0,780.0 1272.0,798.0 1277.0,812.0 1279.0,824.0 1278.0,840.0 1274.0,854.0 1270.0,860.0 1262.0,864.0 1256.0,862.0 1250.0,852.0 1242.0,844.0 1238.0,832.0 1228.0,816.0 1222.0,804.0 1219.0,792.0 1222.0,780.0 1222.0,766.0 1214.0,756.0 1206.0,746.0 1200.0,738.0 1194.3,734.0 1188.6,734.6 1182.9,739.0 1174.9,742.6 1165.7,744.9 1161.0,736.9 1154.3,730.0 1145.0,726.0 1133.7,726.6 1120.0,729.4 1108.6,728.9 1100.6,725.4 1091.4,724.3 1081.0,728.9 1085.7,733.4 1082.3,739.0 1076.6,747.0 1081.0,750.6 1089.0,757.4 1086.9,761.4 1080.0,763.0 1080.0,757.4 1074.3,752.3 1068.6,750.0 1062.9,758.6 1057.0,755.0 1051.4,760.3 1046.9,757.4 1040.0,751.7 1033.0,742.6 1026.3,740.3 1021.7,747.7 1011.4,747.0 1000.0,740.9 988.6,740.9 982.9,742.6 971.4,749.4 960.0,757.0 946.0,766.0 930.0,774.0 920.0,782.0 914.0,788.0 912.0,798.0 910.0,812.0 912.0,828.0 917.0,841.0 912.0,843.0 900.0,840.0 888.0,836.0 876.0,830.0 870.0,816.0 866.0,802.0 858.0,790.0 850.0,778.0 844.0,764.0 836.0,754.0 826.0,743.0 808.0,741.0 802.0,744.0 796.0,758.0 788.0,763.0 770.0,752.0 760.0,738.0 754.0,722.0 739.0,710.0 728.0,700.0 722.0,694.0 718.0,686.0 718.0,692.0 686.0,692.0 686.0,701.0 624.0,700.0 546.0,671.0 548.0,664.0 496.0,669.0 496.0,669.0 494.0,658.0 486.0,646.0 472.0,637.0 460.0,630.0 448.0,620.0 432.0,619.0 424.0,616.0 423.0,606.0 418.0,594.0 406.0,580.0 397.0,566.0 397.0,557.0 390.0,553.0 384.0,541.0 378.0,525.0 370.0,515.0 358.0,499.0 354.0,477.0 345.0,467.0 343.0,459.0 348.0,445.0 350.0,433.0 345.0,419.0 344.0,403.0 341.0,393.0 346.0,381.0 350.0,355.0 353.0,327.0 352.0,316.0 351.5,306.0 351.0,299.0 349.7,289.0 346.0,279.0 343.5,268.0 338.6,264.5 336.0,257.0 337.0,250.9 352.0,255.8 368.0,257.7 376.8,260.8 377.4,239.8"/>
<polygon points="1399.7,460.0 1406.0,452.0 1410.5,447.4 1420.4,444.7 1430.2,442.0 1439.2,440.7 1449.0,441.0 1450.9,443.8 1450.0,445.6 1442.8,449.2 1433.8,452.8 1423.0,456.8 1414.0,458.6 1406.0,460.0" stroke-width="2.4"/>
<polyline points="352.0,307.0 365.7,308.9 374.0,312.6 377.4,322.4 386.7,326.7 399.0,322.4 411.0,324.0 423.7,322.4 436.0,318.7 456.0,314.6 499.0,314.0"/>
<polyline points="498.0,235.4 498.0,314.0"/>
<polyline points="519.0,235.4 519.0,263.0 526.0,273.0 526.0,278.0 536.0,283.0 546.0,296.0 555.0,297.0 552.0,315.0 550.0,325.0 555.0,329.0 564.0,323.0 572.0,339.0 580.0,347.0 585.0,357.0 589.0,354.0 616.0,352.0 618.0,347.0 624.0,353.0"/>
<polyline points="499.0,314.0 510.0,324.0 504.0,339.0 494.0,357.0 501.0,363.0 498.0,375.0 498.0,419.6"/>
<polyline points="772.0,235.4 772.0,446.0"/>
<polyline points="772.0,315.6 928.0,315.6"/>
<polyline points="624.4,340.8 772.0,340.6"/>
<polyline points="916.0,236.0 918.0,255.0 923.0,273.0 925.0,291.0 928.0,309.0 929.0,317.0 924.0,324.0 932.0,331.0 932.4,380.0 933.0,393.0 928.0,402.0"/>
<polyline points="932.0,380.0 1040.0,380.0"/>
<polyline points="1019.0,297.0 1018.0,311.0 1008.0,321.0 1006.0,325.0 1010.0,335.0 1009.0,347.0 1020.0,353.0 1030.0,363.0 1040.0,371.0 1044.0,383.0 1044.0,393.0 1048.0,401.0 1056.0,407.0 1064.0,417.0 1062.0,427.0 1046.0,435.0 1047.0,445.0 1040.0,455.0 1036.0,461.0 1036.0,471.0 1042.0,481.0 1051.0,491.0 1055.0,502.0 1065.0,503.0 1062.0,515.0 1060.0,521.0 1070.0,529.0 1079.0,537.0 1080.0,549.0 1084.0,553.0 1084.0,559.0 1078.0,565.0 1074.0,577.0 1068.0,592.0 1062.0,606.0 1054.0,618.0 1046.0,630.0 1042.0,644.0 1046.0,660.0 1048.0,676.0 1040.0,690.0 1034.3,697.0 1033.0,709.4 1074.3,709.4 1072.0,717.4 1075.4,725.4 1078.9,731.0"/>
<polyline points="1060.0,299.0 1080.0,309.0 1110.0,317.0 1114.0,327.0 1118.0,337.0 1114.0,349.0"/>
<polyline points="345.0,419.6 624.4,419.6"/>
<polyline points="624.4,340.8 624.4,446.0"/>
<polyline points="624.4,446.0 814.0,446.0"/>
<polyline points="435.7,419.6 435.7,499.5 550.0,602.0"/>
<polyline points="561.0,419.6 561.0,572.0 556.0,578.0 546.0,575.0 547.0,593.0 550.0,602.0 554.0,612.0 560.0,622.0 554.0,628.0 550.0,640.0 546.0,650.0 550.0,658.0 549.0,664.0 546.0,671.0"/>
<polyline points="561.0,552.0 970.4,552.0"/>
<polyline points="666.6,446.0 666.6,552.0 667.0,701.0"/>
<polyline points="771.6,394.6 888.0,394.6 898.0,400.0 912.0,397.0 928.0,402.0 935.0,413.0 940.0,429.0 945.0,443.0 944.0,453.0 950.0,463.0 955.0,472.0 965.0,478.0 960.0,485.0 969.0,495.0 970.4,497.0 970.4,564.4 971.0,564.0 974.0,600.0 975.0,642.0"/>
<polyline points="948.0,457.0 1034.0,456.6 1038.0,460.0"/>
<polyline points="814.0,473.0 955.0,473.0"/>
<polyline points="814.0,446.0 814.0,552.0"/>
<polyline points="792.4,552.0 792.4,565.4 858.0,565.4 858.0,616.0 870.0,620.0 876.0,626.0 890.0,628.0 900.0,634.0 910.0,634.0 918.0,638.0 926.0,633.0 934.0,638.0 950.0,632.0 958.0,632.0 968.0,638.0 974.0,642.0 983.0,642.0 983.0,656.0 983.0,680.0 985.0,690.0 992.0,701.4 990.9,718.6 987.4,733.4 982.9,741.4"/>
<polyline points="792.4,565.4 792.4,683.6 717.0,683.6"/>
<polyline points="970.4,564.4 1062.0,565.0 1068.0,570.0 1060.0,578.0 1074.0,577.0"/>
<polyline points="983.0,656.0 1042.0,656.0"/>
<polyline points="1056.0,406.6 1114.0,406.6"/>
<polyline points="1120.0,425.0 1120.0,489.0 1117.0,497.0 1121.0,505.0 1116.0,513.0 1110.0,521.0 1107.0,531.0 1104.0,541.0 1098.0,548.0 1088.0,547.0 1084.0,553.0"/>
<polyline points="1107.0,531.0 1120.0,529.0 1130.0,527.0 1140.0,527.0 1143.0,521.0 1150.0,521.0 1158.0,515.0 1164.0,508.0 1174.0,504.0 1177.0,497.0 1184.0,496.0 1190.0,502.0 1198.0,507.0 1208.0,509.0 1218.0,507.0 1225.0,515.0 1230.0,509.0 1234.0,501.0 1240.0,495.0 1248.0,488.0 1256.0,483.0 1260.0,475.0 1264.0,467.0 1265.0,457.0 1268.0,451.0"/>
<polyline points="1138.0,426.0 1177.0,426.0 1204.0,426.0 1208.0,428.0"/>
<polyline points="1177.0,426.0 1177.0,497.0"/>
<polyline points="1268.0,421.0 1268.0,480.0"/>
<polyline points="1284.0,413.0 1284.0,419.6 1377.0,419.6 1380.0,423.2 1383.6,427.7 1384.5,432.2 1389.0,436.6 1409.6,447.4"/>
<polyline points="1389.0,436.6 1385.4,443.0 1382.7,448.3 1383.6,456.4 1389.0,465.3 1390.0,467.0 1382.0,472.0 1374.0,475.0 1370.0,478.0 1373.6,487.0 1377.0,492.0 1384.0,497.0"/>
<polyline points="1268.0,479.7 1369.3,479.8 1369.3,513.8 1383.0,513.8"/>
<polyline points="1415.0,442.0 1413.6,430.4 1414.0,416.9 1417.7,405.2 1419.9,399.0"/>
<polyline points="1225.0,515.0 1224.0,523.0 1228.0,531.0 1236.0,539.0 1244.0,547.0 1256.0,542.0 1270.0,540.0 1274.0,537.0 1275.0,528.6 1282.0,518.0 1286.0,511.0 1294.0,512.5 1299.0,504.0 1304.0,503.0 1312.0,492.0 1311.0,486.0 1325.0,495.0"/>
<polyline points="1289.0,480.0 1289.0,493.6 1301.0,485.6 1307.7,483.5 1316.0,484.5 1324.0,483.5 1326.0,491.0 1325.0,495.0 1333.0,493.6 1334.6,497.7 1342.6,500.0 1342.6,504.4 1337.0,508.0 1334.6,514.0 1337.0,516.5 1341.0,514.0 1350.7,520.5 1356.0,524.6"/>
<polyline points="1236.0,539.0 1228.0,545.0 1218.0,553.0 1212.0,559.0"/>
<polyline points="1078.0,564.0 1110.0,565.0 1110.0,560.0 1212.0,560.3 1244.0,562.0 1364.0,563.6"/>
<polyline points="1064.0,604.4 1208.0,604.0 1208.0,609.0"/>
<polyline points="1107.0,604.4 1100.0,688.0 1100.6,718.0 1101.7,724.3"/>
<polyline points="1160.0,604.4 1170.0,660.0 1174.0,678.0 1170.0,690.0 1171.4,701.4 1173.7,710.6 1176.0,716.9 1200.0,719.7 1232.0,722.0 1234.0,726.0 1238.0,716.0 1247.0,717.0"/>
<polyline points="1123.4,722.0 1120.0,716.3 1117.7,710.0 1172.0,710.0"/>
<polyline points="1242.0,562.0 1230.0,576.0 1218.0,580.0 1206.0,590.0 1192.0,596.0 1186.0,604.0"/>
<polyline points="1208.0,609.0 1220.0,602.0 1256.0,600.0 1262.0,608.0 1286.0,609.0 1310.0,633.0 1322.0,632.0"/>
<polyline points="1208.0,609.0 1218.0,620.0 1230.0,636.0 1242.0,652.0 1250.0,664.0 1256.0,680.0"/>
<polyline points="1418.0,340.0 1419.0,375.5 1419.9,390.0 1419.9,399.0"/>
<polyline points="1459.0,334.0 1456.0,349.0 1447.0,360.0 1441.0,378.0 1438.3,390.0 1435.6,400.0"/>
<polyline points="1467.0,333.0 1468.0,371.0 1472.0,393.0"/>
<polyline points="1419.9,400.8 1461.6,401.7 1466.0,398.0 1471.5,396.3"/>
<polyline points="1414.0,418.7 1460.7,418.7 1461.6,421.4 1462.5,425.9 1464.0,430.0"/>
<polyline points="1451.7,418.7 1451.7,436.6"/>
<polyline points="1058.3,730.0 1062.9,725.4 1069.7,728.9 1074.3,732.3 1067.4,734.6 1060.6,734.6 1058.3,730.0"/>
<polyline points="1108.6,715.5 1110.5,721.0 1112.0,727.7"/>
<polyline points="1076.0,737.0 1082.0,744.0"/>
</g>
<g fill="none" stroke="#000" stroke-width="5.5" stroke-linejoin="round" stroke-linecap="round">
<polyline points="1490.3,426.8 1491.2,423.2 1489.4,418.7 1484.9,416.9"/>
<polyline points="1399.0,459.0 1407.0,455.0"/>
<polyline points="373.5,246.5 375.0,247.0"/>
<polyline points="381.7,243.0 384.0,252.0 387.0,261.0 384.0,268.0"/>
<polyline points="1364.0,485.5 1357.4,495.0 1357.4,507.0 1364.0,518.0 1367.0,523.0 1364.0,535.0 1363.0,546.0"/>
<polyline points="1349.0,492.0 1350.7,504.4 1349.0,514.0 1354.7,523.0 1356.0,540.7 1353.0,551.5 1363.0,554.0"/>
<polyline points="1340.0,514.0 1356.0,524.6"/>
<polyline points="1342.6,526.0 1353.4,532.6"/>
<polyline points="1345.0,538.0 1356.0,542.0"/>
<polyline points="1342.6,544.7 1357.4,554.0"/>
<polyline points="1362.0,518.0 1373.6,523.0"/>
<polyline points="1348.0,566.0 1352.0,572.0 1360.0,574.0 1356.0,580.0 1364.0,584.0"/>
<polyline points="1340.0,590.0 1350.0,594.0 1358.0,592.0"/>
<polyline points="1338.0,600.0 1348.0,604.0 1354.0,600.0"/>
<polyline points="1134.0,326.0 1126.0,335.0 1118.0,345.0 1113.0,350.0"/>
<polyline points="1219.0,790.0 1226.0,790.0 1228.0,796.0"/>
<polyline points="1228.0,814.0 1234.0,816.0"/>
<polyline points="1161.0,340.0 1163.0,344.0"/>
<polyline points="349.0,289.0 354.0,289.0"/>
<polyline points="351.0,297.0 355.0,298.0"/>
<polyline points="958.0,758.0 963.0,750.0"/>
<polyline points="930.0,774.0 936.0,768.0"/>
<polyline points="912.0,800.0 906.0,806.0"/>
</g>
<g fill="none" stroke="#000" stroke-width="8" stroke-linejoin="round" stroke-linecap="round">
<polyline points="1474.0,437.0 1475.5,437.0"/>
<polyline points="1486.5,438.5 1488.5,438.5"/>
<polyline points="384.0,523.0 388.0,528.0 387.0,534.0 391.0,540.0"/>
<polyline points="373.5,246.5 375.0,247.0"/>
</g>
<ellipse cx="379.5" cy="277.5" rx="8.5" ry="10.5" fill="#000"/>
<rect x="378" y="274" width="2" height="2" fill="#0000CD"/>
<polyline points="1131,330 1118,345" stroke="#fff" stroke-width="1" fill="none"/>
<rect x="1596" y="533" width="26" height="25.3" fill="#4D4D4D"/>
<rect x="1596" y="558.1" width="26" height="26.2" fill="#0028D7"/>
<rect x="1596" y="584.1" width="26" height="25.3" fill="#A82412"/>
<rect x="1596" y="609.2" width="26" height="25.8" fill="#D9C000"/>
<text transform="translate(947,57.4) scale(1.0,1)" font-family="'Liberation Sans', sans-serif" font-size="33.55" font-weight="bold" text-anchor="middle" fill="#000">Honeydew moth: Number of generations w/ climate stress exclusions</text>
<text transform="translate(947,96.9) scale(1.0,1)" font-family="'Liberation Sans', sans-serif" font-size="33.55" font-weight="bold" text-anchor="middle" fill="#000">04/10/2026</text>
<text transform="translate(947.2,147.9) scale(1.0,1)" font-family="'Liberation Sans', sans-serif" font-size="27.1" font-weight="normal" text-anchor="middle" fill="#000">Maps and modeling 04/10/2026 by Oregon State University IPPC USPEST.ORG and</text>
<text transform="translate(947.2,180.9) scale(1.0,1)" font-family="'Liberation Sans', sans-serif" font-size="27.1" font-weight="normal" text-anchor="middle" fill="#000">USDA-APHIS-PPQ; climate data from OSU PRISM Climate Group</text>
<text transform="translate(1595.5,490.9) scale(1.012,1)" font-family="'Liberation Sans', sans-serif" font-size="25.7" font-weight="bold" text-anchor="start" fill="#000">No. of</text>
<text transform="translate(1595.5,519.7) scale(1.012,1)" font-family="'Liberation Sans', sans-serif" font-size="25.7" font-weight="bold" text-anchor="start" fill="#000">generations</text>
<text transform="translate(1632.6,552.9) scale(1.113,1)" font-family="'DejaVu Sans', sans-serif" font-size="19.5" font-weight="normal" text-anchor="start" fill="#000">excl.-severe</text>
<text transform="translate(1632.6,578.5) scale(1.113,1)" font-family="'DejaVu Sans', sans-serif" font-size="19.5" font-weight="normal" text-anchor="start" fill="#000">0 gens.</text>
<text transform="translate(1632.6,604.1) scale(1.113,1)" font-family="'DejaVu Sans', sans-serif" font-size="19.5" font-weight="normal" text-anchor="start" fill="#000">1 gens.</text>
<text transform="translate(1632.6,629.7) scale(1.113,1)" font-family="'DejaVu Sans', sans-serif" font-size="19.5" font-weight="normal" text-anchor="start" fill="#000">2 gens.</text>
</svg>
</body></html>
